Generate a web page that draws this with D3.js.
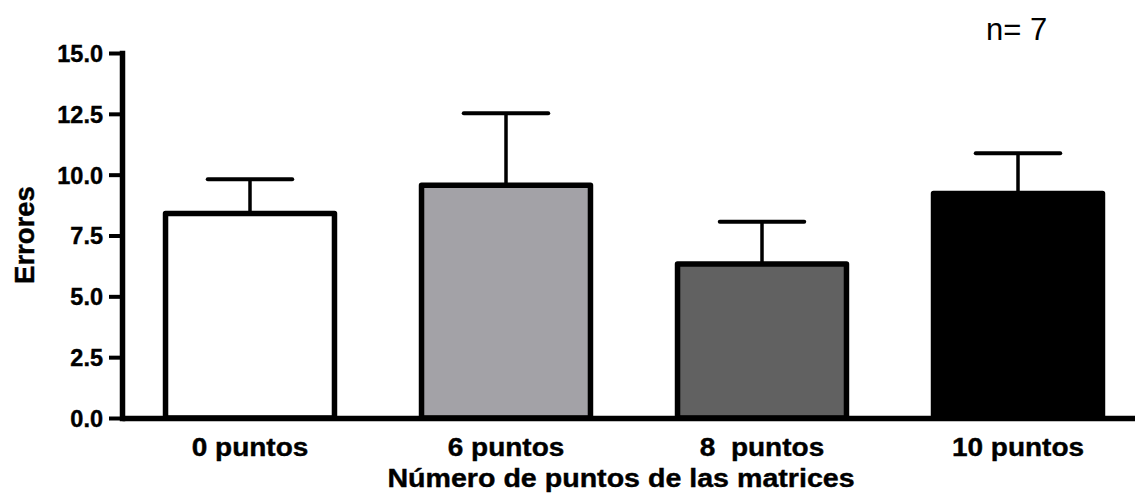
<!DOCTYPE html>
<html>
<head>
<meta charset="utf-8">
<script src="https://cdn.jsdelivr.net/npm/d3@7/dist/d3.min.js"></script>
<style>
  html, body { margin: 0; padding: 0; background: #fff; }
  svg { display: block; }
  text { font-family: "Liberation Sans", Arial, Helvetica, sans-serif; fill: #000; white-space: pre; }
  .heavy { font-weight: bold; stroke: #000; stroke-width: 0.4px; }
</style>
</head>
<body>
<svg id="chart" width="1135" height="495"></svg>
<script>
// Mean errors per matrix condition, with the upper SEM bar
const categories = ["0 puntos", "6 puntos", "8  puntos", "10 puntos"];
const means = [8.40, 9.56, 6.33, 9.23];
const sem = [1.41, 2.96, 1.74, 1.65];
const fills = ["#ffffff", "#a3a2a7", "#616161", "#000000"];
const yTicks = [0, 2.5, 5, 7.5, 10, 12.5, 15];
const sampleNote = "n= 7";
const xTitle = "Número de puntos de las matrices";
const yTitle = "Errores";

const svg = d3.select("#chart");

const y = d3.scaleLinear().domain([0, 15]).range([418, 53]);
const x = d3.scaleBand()
  .domain(categories)
  .range([122, 1146])
  .paddingInner(0.34)
  .paddingOuter(0.17);

// Error bars (upper half only), drawn beneath the bars
const err = svg.append("g");
categories.forEach((c, i) => {
  const cx = x(c) + x.bandwidth() / 2;
  err.append("line")
    .attr("x1", cx).attr("x2", cx)
    .attr("y1", y(means[i])).attr("y2", y(means[i] + sem[i]))
    .attr("stroke", "#000").attr("stroke-width", 3.5);
  err.append("line")
    .attr("x1", cx - x.bandwidth() / 4).attr("x2", cx + x.bandwidth() / 4)
    .attr("y1", y(means[i] + sem[i])).attr("y2", y(means[i] + sem[i]))
    .attr("stroke", "#000").attr("stroke-width", 4)
    .attr("stroke-linecap", "round");
});

// Bars
svg.append("g").selectAll("rect")
  .data(categories)
  .join("rect")
  .attr("x", d => x(d))
  .attr("width", x.bandwidth())
  .attr("y", (d, i) => y(means[i]))
  .attr("height", (d, i) => y(0) - y(means[i]))
  .attr("fill", (d, i) => fills[i])
  .attr("stroke", "#000")
  .attr("stroke-width", 5.5)
  .attr("stroke-linejoin", "round");

// Y axis
const yAxis = svg.append("g")
  .attr("transform", "translate(122,0)")
  .call(d3.axisLeft(y).tickValues(yTicks).tickFormat(d3.format(".1f")).tickSize(13).tickSizeOuter(0));
yAxis.select(".domain").attr("stroke-width", 5.5).attr("stroke-linecap", "square");
yAxis.selectAll(".tick line").attr("stroke-width", 4);
yAxis.selectAll(".tick text")
  .attr("class", "heavy")
  .attr("x", 0)
  .attr("dy", "0.36em")
  .style("font-size", "23.5px")
  .attr("text-anchor", "end")
  .attr("transform", "translate(-19,0)");

// X axis (baseline only, category labels below)
const xAxis = svg.append("g")
  .attr("transform", `translate(0,${y(0)})`)
  .call(d3.axisBottom(x).tickSize(0).tickSizeOuter(0));
xAxis.select(".domain").attr("stroke-width", 5.5);
xAxis.selectAll(".tick text")
  .attr("class", "heavy")
  .attr("y", 0).attr("dy", 0)
  .attr("transform", "translate(0,38) scale(1.12,1)")
  .style("font-size", "25px");

// Axis titles
svg.append("text")
  .attr("class", "heavy")
  .attr("transform", "translate(621,487) scale(1.1,1)")
  .attr("text-anchor", "middle")
  .style("font-size", "26px")
  .text(xTitle);

svg.append("text")
  .attr("class", "heavy")
  .attr("transform", "translate(34,235) rotate(-90)")
  .attr("text-anchor", "middle")
  .style("font-size", "27.5px")
  .text(yTitle);

// Sample size note
svg.append("text")
  .attr("transform", "translate(986,40)")
  .style("font-size", "31px")
  .text(sampleNote);
</script>
</body>
</html>
